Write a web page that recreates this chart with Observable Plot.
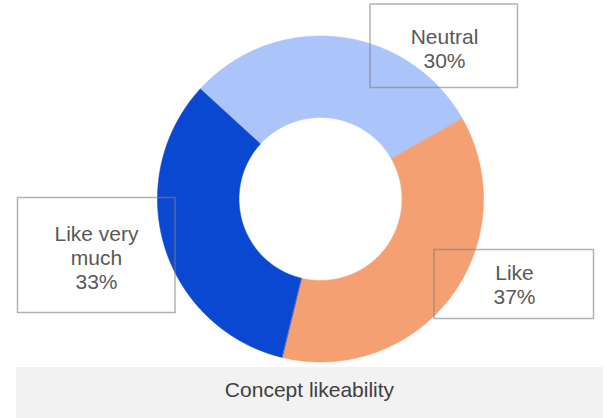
<!DOCTYPE html>
<html>
<head>
<meta charset="utf-8">
<script src="https://cdn.jsdelivr.net/npm/d3@7"></script>
<script src="https://cdn.jsdelivr.net/npm/@observablehq/plot@0.6"></script>
<style>
  body { margin: 0; background: #fff; font-family: "Liberation Sans", Arial, sans-serif; }
  #chart { position: relative; width: 607px; height: 418px; }
  #chart svg { display: block; }
  .caption {
    position: absolute; left: 16px; top: 367px; width: 587px; height: 51px;
    background: #f2f2f2; color: #404040; font-size: 21px; line-height: 46px; text-align: center;
  }
</style>
</head>
<body>
<div id="chart"></div>
<script>
// Survey answers, in the order they go round the ring
const labels = ["Neutral", "Like", "Like very much"];
const values = [30, 37, 33];
const colors = ["#abc5fa", "#f4a073", "#0a48d1"];
const title = "Concept likeability";

// Ring geometry (pixel units of the plot frame)
const ring = { cx: 320, cy: 198.5, outer: 163, inner: 81.5, start: -47.5 };

// Callout boxes and text anchors, one per answer
const callouts = [
  { x1: 370, x2: 517.5, y1: 4, y2: 87.5, tx: 444, ty: 47.5 },
  { x1: 434, x2: 593.5, y1: 249.5, y2: 318.5, tx: 514, ty: 284 },
  { x1: 17.5, x2: 175, y1: 197.5, y2: 312.5, tx: 96, ty: 257 }
];

const data = labels.map((label, i) => ({ label, value: values[i] }));

// Angles for each slice from the values
const start = ring.start * Math.PI / 180;
const arcs = d3.pie().value(d => d.value).sort(null)
  .startAngle(start).endAngle(start + 2 * Math.PI)(data);

// Outline each slice as a closed polygon: outer arc forward, inner arc back
const step = Math.PI / 360;
const polygonPoints = [];
for (const a of arcs) {
  const n = Math.max(2, Math.ceil((a.endAngle - a.startAngle) / step) + 1);
  const pts = [];
  for (let k = 0; k < n; k++) {
    const t = a.startAngle + (a.endAngle - a.startAngle) * k / (n - 1);
    pts.push({ label: a.data.label, x: ring.cx + ring.outer * Math.sin(t), y: ring.cy - ring.outer * Math.cos(t) });
  }
  for (let k = n - 1; k >= 0; k--) {
    const t = a.startAngle + (a.endAngle - a.startAngle) * k / (n - 1);
    pts.push({ label: a.data.label, x: ring.cx + ring.inner * Math.sin(t), y: ring.cy - ring.inner * Math.cos(t) });
  }
  polygonPoints.push(...pts);
}

const rows = data.map((d, i) => ({ ...d, ...callouts[i] }));

const W = 607, H = 367;
const plot = Plot.plot({
  width: W,
  height: H,
  margin: 0,
  x: { domain: [0, W], range: [0, W], axis: null },
  y: { domain: [0, H], range: [0, H], axis: null },
  color: { domain: labels, range: colors },
  style: { background: "transparent", fontFamily: "'Liberation Sans', Arial, sans-serif" },
  marks: [
    Plot.line(polygonPoints, {
      x: "x", y: "y", z: "label", fill: "label", stroke: "label",
      strokeWidth: 0.6, curve: "linear-closed"
    }),
    Plot.rect(rows, {
      x1: "x1", x2: "x2", y1: "y1", y2: "y2",
      fill: "none", stroke: "#7f7f7f", strokeOpacity: 0.6, strokeWidth: 1.5
    }),
    Plot.text(rows, {
      x: "tx", y: "ty",
      text: d => `${d.label}\n${d.value}%`,
      fontSize: 21, lineWidth: 5, lineHeight: 1.14,
      fill: "#595959", textAnchor: "middle", lineAnchor: "middle"
    })
  ]
});

const chart = document.getElementById("chart");
chart.appendChild(plot);
const cap = document.createElement("div");
cap.className = "caption";
cap.textContent = title;
chart.appendChild(cap);
</script>
</body>
</html>
